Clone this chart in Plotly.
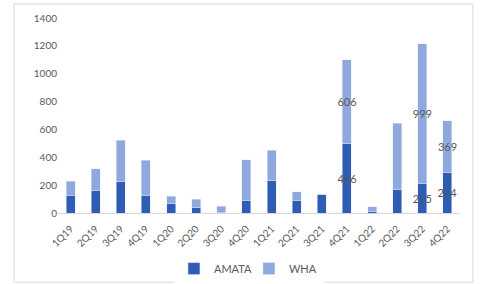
import plotly.graph_objects as go

quarters = ["1Q19", "2Q19", "3Q19", "4Q19", "1Q20", "2Q20", "3Q20", "4Q20",
            "1Q21", "2Q21", "3Q21", "4Q21", "1Q22", "2Q22", "3Q22", "4Q22"]
amata = [127, 163, 223, 127, 68, 43, 2, 91, 235, 91, 133, 496, 8, 171, 215, 294]
wha = [101, 154, 300, 252, 52, 56, 48, 293, 214, 60, 3, 606, 38, 475, 999, 369]
labelled = ["4Q21", "3Q22", "4Q22"]
y_ticks = [0, 200, 400, 600, 800, 1000, 1200, 1400]

amata_text = [str(v) if q in labelled else "" for q, v in zip(quarters, amata)]
wha_text = [str(v) if q in labelled else "" for q, v in zip(quarters, wha)]

font_family = "Lato, Open Sans, sans-serif"

fig = go.Figure()
fig.add_trace(go.Bar(
    name="AMATA", x=quarters, y=amata, marker_color="#2F5CB4",
    text=amata_text, textposition="inside", insidetextanchor="middle",
    textangle=0, constraintext="none",
    textfont=dict(color="#595959", size=11, family=font_family),
))
fig.add_trace(go.Bar(
    name="WHA", x=quarters, y=wha, marker_color="#8FA8DE",
    text=wha_text, textposition="inside", insidetextanchor="middle",
    textangle=0, constraintext="none",
    textfont=dict(color="#595959", size=11, family=font_family),
))

fig.update_layout(
    barmode="stack",
    bargap=0.64,
    width=481, height=284,
    margin=dict(l=58, r=21, t=18, b=71, autoexpand=False),
    paper_bgcolor="white", plot_bgcolor="white",
    font=dict(family=font_family, size=10, color="#595959"),
    showlegend=True,
    legend=dict(orientation="h", x=0.475, xanchor="center", y=-0.285, yanchor="middle",
                font=dict(size=11, color="#595959"), itemwidth=30,
                entrywidth=30, traceorder="normal"),
    xaxis=dict(tickangle=-45, showgrid=False, showline=True, linecolor="#D9D9D9",
               ticks="", ticklabelstandoff=5, automargin=False,
               tickfont=dict(size=10, color="#595959")),
    yaxis=dict(range=[0, 1400], tickvals=y_ticks, showgrid=False, zeroline=False,
               showline=False, ticks="", automargin=False,
               tickfont=dict(size=10, color="#595959")),
    shapes=[dict(type="rect", xref="paper", yref="paper",
                 x0=-0.1095, x1=1.032, y0=-0.355, y1=1.072,
                 line=dict(color="#D9D9D9", width=1), fillcolor="rgba(0,0,0,0)")],
    uniformtext=dict(mode=False),
)

fig.write_html("out.html", config={"displayModeBar": False},
               post_script="document.body.style.margin='0';document.body.style.overflow='hidden';")
